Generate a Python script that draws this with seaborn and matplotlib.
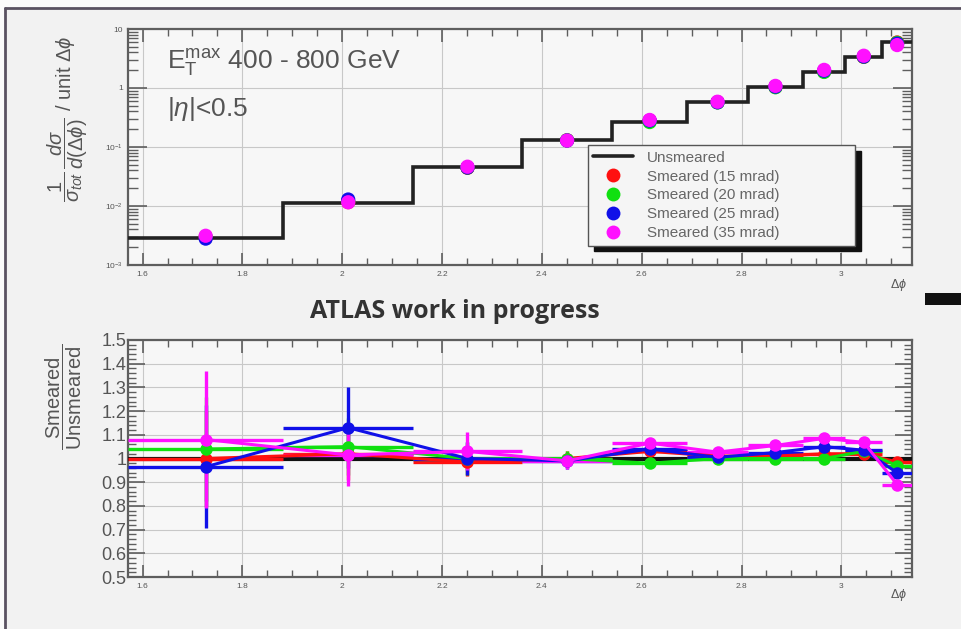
import numpy as np
import matplotlib
matplotlib.use("Agg")
import matplotlib.pyplot as plt
import matplotlib.ticker as mticker
from matplotlib.lines import Line2D
from matplotlib.patches import Rectangle
import seaborn as sns

# ---- data -------------------------------------------------------------
bin_edges = [1.5708, 1.882, 2.142, 2.360, 2.541, 2.691, 2.813, 2.923, 3.008, 3.082, 3.1416]
unsmeared = [0.0029, 0.0114, 0.045, 0.13, 0.27, 0.57, 1.03, 1.87, 3.3, 6.0]

ratio_15 = [1.00, 1.02, 0.985, 1.00, 1.03, 1.01, 1.01, 1.02, 1.02, 0.985]
ratio_20 = [1.04, 1.05, 1.00, 1.00, 0.98, 1.00, 1.00, 1.00, 1.03, 0.97]
ratio_25 = [0.965, 1.13, 1.00, 0.99, 1.04, 1.005, 1.025, 1.05, 1.035, 0.94]
ratio_35 = [1.08, 1.015, 1.03, 0.99, 1.065, 1.027, 1.055, 1.085, 1.068, 0.89]

err_15 = [0.20, 0.11, 0.06, 0.03, 0.02, 0.015, 0.012, 0.01, 0.01, 0.01]
err_20 = [0.22, 0.12, 0.07, 0.03, 0.02, 0.015, 0.012, 0.01, 0.01, 0.01]
err_25 = [0.26, 0.17, 0.07, 0.035, 0.02, 0.015, 0.012, 0.01, 0.01, 0.01]
err_35 = [0.29, 0.13, 0.08, 0.035, 0.02, 0.015, 0.012, 0.01, 0.01, 0.01]

labels = ["Smeared (15 mrad)", "Smeared (20 mrad)", "Smeared (25 mrad)", "Smeared (35 mrad)"]
colors = ["#ff1010", "#10e010", "#1010e8", "#ff10ff"]
ratios = [ratio_15, ratio_20, ratio_25, ratio_35]
errors = [err_15, err_20, err_25, err_35]

edges = np.array(bin_edges)
centers = 0.5 * (edges[:-1] + edges[1:])
half_w = 0.5 * (edges[1:] - edges[:-1])

# ---- style ------------------------------------------------------------
sns.set_style("white")
plt.rcParams["font.family"] = ["Liberation Sans", "DejaVu Sans"]
plt.rcParams["mathtext.fontset"] = "custom"
plt.rcParams["mathtext.rm"] = "Liberation Sans"
plt.rcParams["mathtext.it"] = "Liberation Sans:italic"
plt.rcParams["mathtext.bf"] = "Liberation Sans:bold"

BG = "#f2f2f2"
AXBG = "#f7f7f7"
TXT = "#555555"
GRID = "#c8c8c8"
FRAME = "#5e5e5e"

fig = plt.figure(figsize=(9.62, 6.29), dpi=100, facecolor=BG)

# slide frame
fig.add_artist(Rectangle((0, 1 - 8 / 629), 1, 8 / 629, transform=fig.transFigure,
                         facecolor="#fbfbfb", edgecolor="none"))
fig.add_artist(Rectangle((0, 0), 5 / 962, 1, transform=fig.transFigure,
                         facecolor="#fbfbfb", edgecolor="none"))
fig.add_artist(Line2D([5 / 962, 1], [1 - 8 / 629] * 2, transform=fig.transFigure,
                      color="#5a5262", lw=2))
fig.add_artist(Line2D([5 / 962] * 2, [0, 1 - 8 / 629], transform=fig.transFigure,
                      color="#5a5262", lw=2))
fig.add_artist(Rectangle((925 / 962, 1 - 305 / 629), 37 / 962, 12 / 629,
                         transform=fig.transFigure, facecolor="#111111", edgecolor="none"))

ax1 = fig.add_axes([128 / 962, 1 - 265 / 629, 784 / 962, 236 / 629])
ax2 = fig.add_axes([128 / 962, 1 - 577 / 629, 784 / 962, 237 / 629])

for ax in (ax1, ax2):
    ax.set_facecolor(AXBG)
    for sp in ax.spines.values():
        sp.set_color(FRAME)
        sp.set_linewidth(1.6)
    ax.set_xlim(edges[0], edges[-1])
    ax.xaxis.set_major_locator(mticker.MultipleLocator(0.2))
    ax.xaxis.set_minor_locator(mticker.MultipleLocator(0.05))
    ax.xaxis.set_major_formatter(mticker.FormatStrFormatter("%g"))
    ax.tick_params(which="both", direction="in", top=True, right=True,
                   bottom=True, left=True, colors=FRAME, labelcolor=TXT)
    ax.tick_params(which="major", length=9, width=1.2)
    ax.tick_params(which="minor", length=5, width=1.0)
    ax.tick_params(axis="x", labelsize=6, pad=4)
    ax.grid(True, which="major", color=GRID, lw=0.8)
    ax.set_axisbelow(True)

# ---- upper panel: distributions ---------------------------------------
ax1.set_yscale("log")
ax1.set_ylim(1e-3, 10)
ax1.yaxis.set_major_locator(mticker.LogLocator(base=10, numticks=10))
ax1.yaxis.set_minor_locator(mticker.LogLocator(base=10, subs=np.arange(2, 10), numticks=20))


def log_label(v, pos):
    e = int(round(np.log10(v)))
    if e == 0:
        return "1"
    if e == 1:
        return "10"
    return r"$10^{%d}$" % e


ax1.yaxis.set_major_formatter(mticker.FuncFormatter(log_label))
ax1.tick_params(axis="y", labelsize=6)
ax1.tick_params(axis="y", which="major", length=14)
ax1.tick_params(axis="y", which="minor", length=7)

ax1.stairs(unsmeared, edges, color="#222222", lw=2.6, baseline=None, zorder=3)
for r, c in zip(ratios, colors):
    sns.scatterplot(x=centers, y=np.array(unsmeared) * np.array(r), color=c, s=105,
                    edgecolor="none", ax=ax1, zorder=4)

ax1.text(0.05, 0.86, r"E$_{\mathregular{T}}^{\mathregular{max}}$ 400 - 800 GeV",
         transform=ax1.transAxes, fontsize=19, color=TXT, va="center")
ax1.text(0.05, 0.66, r"|$\eta$|<0.5", transform=ax1.transAxes, fontsize=19,
         color=TXT, va="center")
ax1.set_ylabel(r"$\dfrac{1}{\sigma_{tot}}\,\dfrac{d\sigma}{d(\Delta\phi)}$ / unit $\Delta\phi$",
               fontsize=14.5, color=TXT)
ax1.yaxis.set_label_coords(-0.048, 0.62)
fig.text(898 / 962, 1 - 285 / 629, r"$\Delta\phi$", fontsize=9, color=TXT,
         ha="center", va="center")

handles = [Line2D([], [], color="#222222", lw=2.6)]
handles += [Line2D([], [], ls="none", marker="o", markersize=10, color=c,
                   markeredgecolor="none") for c in colors]
leg = ax1.legend(handles, ["Unsmeared"] + labels, loc="lower left",
                 bbox_to_anchor=(0.577, 0.05, 0.36, 0.432), mode="expand",
                 fontsize=11, labelspacing=0.32, handlelength=2.6,
                 handletextpad=0.9, borderpad=0.35, fancybox=False,
                 framealpha=1, facecolor="#f5f5f5", edgecolor="#555555",
                 shadow={"color": "#111111", "alpha": 1.0, "ox": 4, "oy": -4})
for t in leg.get_texts():
    t.set_color("#666666")
leg.get_frame().set_linewidth(1.0)

# ---- lower panel: ratios ------------------------------------------------
ax2.set_ylim(0.5, 1.5)
ax2.yaxis.set_major_locator(mticker.MultipleLocator(0.1))
ax2.yaxis.set_minor_locator(mticker.MultipleLocator(0.02))
ax2.yaxis.set_major_formatter(mticker.FuncFormatter(lambda v, p: "%g" % round(v, 2)))
ax2.tick_params(axis="y", labelsize=13, pad=1)
ax2.tick_params(axis="y", which="major", length=12)
ax2.tick_params(axis="y", which="minor", length=6)

ax2.axhline(1.0, color="#111111", lw=3.0, zorder=3)
for r, e, c in zip(ratios, errors, colors):
    ax2.errorbar(centers, r, xerr=half_w, yerr=e, fmt="none", ecolor=c,
                 elinewidth=2.4, capsize=0, zorder=4)
    sns.lineplot(x=centers, y=r, color=c, lw=2.2, marker="o", markersize=9,
                 markeredgecolor="none", ax=ax2, zorder=5)

ax2.set_ylabel(r"$\dfrac{\mathregular{Smeared}}{\mathregular{Unsmeared}}$", fontsize=14.5,
               color=TXT)
ax2.yaxis.set_label_coords(-0.056, 0.76)
fig.text(898 / 962, 1 - 595 / 629, r"$\Delta\phi$", fontsize=9, color=TXT,
         ha="center", va="center")

fig.text(455 / 962, 1 - 311 / 629, "ATLAS work in progress", fontsize=18,
         fontweight="bold", family=["Open Sans", "DejaVu Sans"], color="#333333",
         ha="center", va="center")

fig.savefig("out.png", dpi=100, facecolor=BG)
